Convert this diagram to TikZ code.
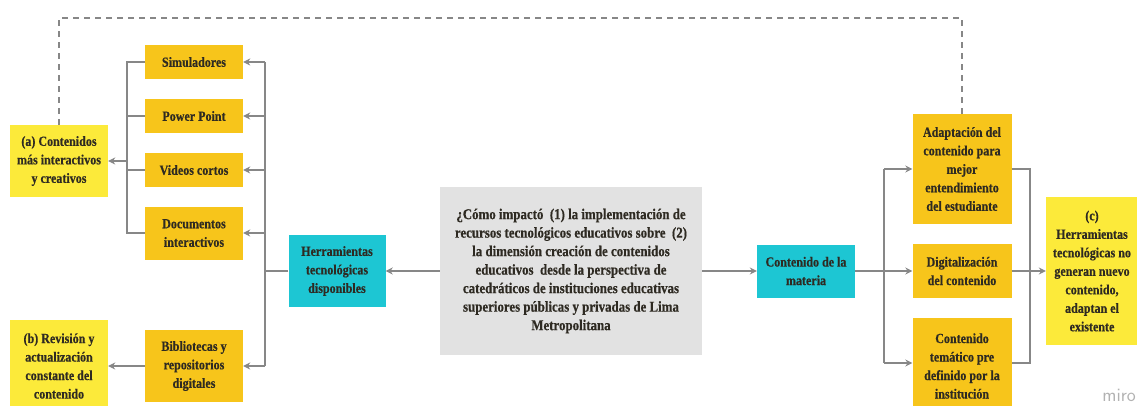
\documentclass[tikz,border=0pt]{standalone}
\usepackage{fontspec}
\setmainfont{Liberation Serif}[FakeStretch=0.86, BoldFeatures={FakeBold=0.5}]
\usetikzlibrary{arrows.meta,calc}
\definecolor{ylw}{HTML}{FCEA3A}
\definecolor{org}{HTML}{F7C51B}
\definecolor{cyn}{HTML}{1DC6D3}
\definecolor{gry}{HTML}{E2E2E2}
\definecolor{lnc}{HTML}{878787}
\definecolor{txc}{HTML}{2E2A22}
\tikzset{
  box/.style={rectangle, inner sep=1pt, align=center, text=txc,
    font=\bfseries\fontsize{14}{18.5}\selectfont},
  ybox/.style={box, fill=ylw},
  obox/.style={box, fill=org},
  cbox/.style={box, fill=cyn},
  qbox/.style={box, fill=gry, font=\bfseries\fontsize{15}{18.5}\selectfont},
  conn/.style={draw=lnc, line width=1.6pt},
  arr/.style={conn, -{Stealth[length=7pt,width=7pt]}},
  fb/.style={draw=lnc, line width=1.2pt, dash pattern=on 6pt off 5pt}
}
\begin{document}
\begin{tikzpicture}[x=1pt,y=-1pt]
\useasboundingbox (0,0) rectangle (1137,405);
% left column
\node[ybox, minimum width=98, minimum height=72] (a) at (59,161) {(a) Contenidos\\más interactivos\\y creativos};
\node[ybox, minimum width=98, minimum height=92] (b) at (59,366) {(b) Revisión y\\actualización\\constante del\\contenido};
\node[obox, minimum width=98, minimum height=34] (sim) at (194,62) {Simuladores};
\node[obox, minimum width=98, minimum height=34] (pp) at (194,116) {Power Point};
\node[obox, minimum width=98, minimum height=34] (vid) at (194,170) {Videos cortos};
\node[obox, minimum width=98, minimum height=53] (doc) at (194,233) {Documentos\\interactivos};
\node[obox, minimum width=98, minimum height=72] (bib) at (194,366) {Bibliotecas y\\repositorios\\digitales};
\node[cbox, minimum width=97, minimum height=72] (herr) at (337,271) {Herramientas\\tecnológicas\\disponibles};
% centre
\node[qbox, minimum width=262, minimum height=168] (q) at (571,271) {¿Cómo impactó\ \ (1) la implementación de\\recursos tecnológicos educativos sobre\ \ (2)\\la dimensión creación de contenidos\\educativos\ \ desde la perspectiva de\\catedráticos de instituciones educativas\\superiores públicas y privadas de Lima\\Metropolitana};
% right side
\node[cbox, minimum width=98, minimum height=53] (cm) at (806,271) {Contenido de la\\materia};
\node[obox, minimum width=99, minimum height=110] (adp) at (962,169) {Adaptación del\\contenido para\\mejor\\entendimiento\\del estudiante};
\node[obox, minimum width=99, minimum height=54] (dig) at (962,271) {Digitalización\\del contenido};
\node[obox, minimum width=99, minimum height=96] (tem) at (962,366) {Contenido\\temático pre\\definido por la\\institución};
\node[ybox, minimum width=92, minimum height=148] (c) at (1092,271) {(c)\\Herramientas\\tecnológicas no\\generan nuevo\\contenido,\\adaptan el\\existente};
% bus coordinates
\coordinate (lx) at (127,161);
\coordinate (rx) at (265,271);
\coordinate (bx) at (884,271);
\coordinate (cx) at (1030,271);
\coordinate (top) at (0,18);
% left bus
\draw[conn] (sim.west) -- (sim.west -| lx) |- (doc.west);
\draw[conn] (pp.west) -- (pp.west -| lx);
\draw[conn] (vid.west) -- (vid.west -| lx);
\draw[arr] (a.east -| lx) -- (a.east);
\draw[arr] (bib.west) -- (b.east);
% right bus of left part
\draw[conn] (sim.east -| rx) -- (bib.east -| rx);
\draw[conn] (herr.west) -- (rx);
\draw[arr] (sim.east -| rx) -- (sim.east);
\draw[arr] (pp.east -| rx) -- (pp.east);
\draw[arr] (vid.east -| rx) -- (vid.east);
\draw[arr] (doc.east -| rx) -- (doc.east);
\draw[arr] (bib.east -| rx) -- (bib.east);
% centre arrows
\draw[arr] (q.west) -- (herr.east);
\draw[arr] (q.east) -- (cm.west);
% right fan
\draw[conn] (adp.west -| bx) -- ($(tem.west -| bx)+(0,-3)$);
\draw[arr] (cm.east) -- (dig.west);
\draw[arr] (adp.west -| bx) -- (adp.west);
\draw[arr] ($(tem.west -| bx)+(0,-3)$) -- ($(tem.west)+(0,-3)$);
\draw[conn] (adp.east) -- (adp.east -| cx) -- ($(tem.east -| cx)+(0,-3)$) -- ($(tem.east)+(0,-3)$);
\draw[arr] (dig.east) -- (c.west);
% feedback dashed
\draw[fb] (a.north) -- (a.north |- top) -| (adp.north);
% watermark
\node[anchor=base east, inner sep=0pt, text=black!30, font=\sffamily\fontsize{19}{19}\selectfont] (wm) at (1136,401) {miro};
\end{tikzpicture}
\end{document}
